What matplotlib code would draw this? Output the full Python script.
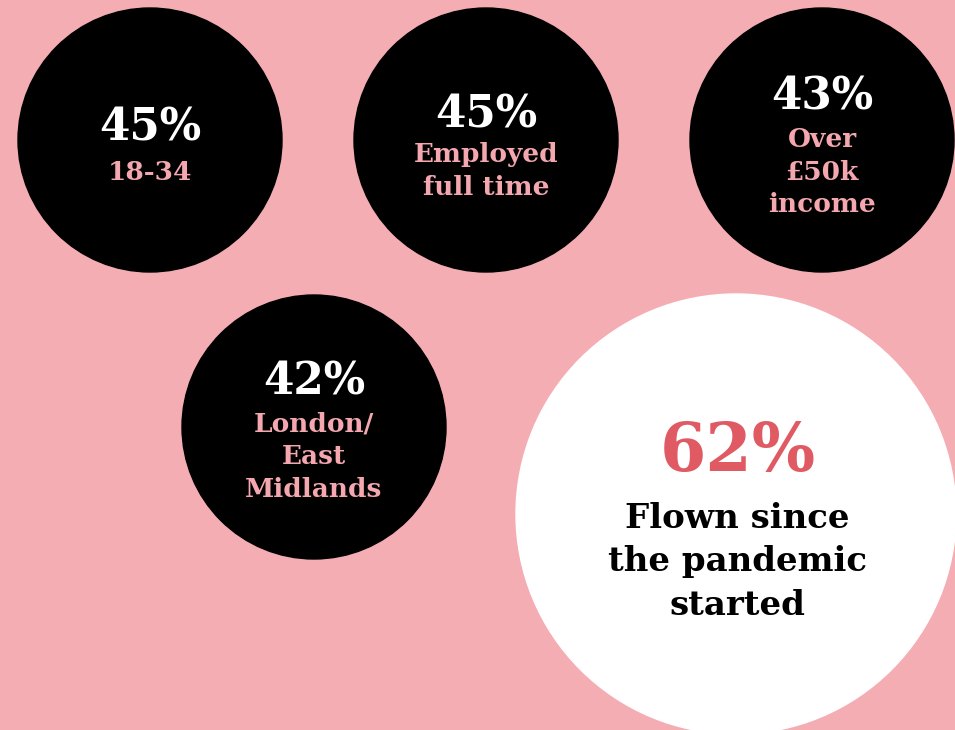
import matplotlib.pyplot as plt
from matplotlib.patches import Circle

# share of respondents who have flown, by group
values = ['45%', '45%', '43%', '42%']
groups = ['18-34', 'Employed\nfull time', 'Over\n£50k\nincome', 'London/\nEast\nMidlands']
total_value = '62%'
total_label = 'Flown since\nthe pandemic\nstarted'

bg = '#F4ADB3'
pink = '#F4A7AE'
red = '#E05A63'

# circle layout in pixel coordinates
centres = [(150, 140), (486, 140), (822, 140), (314, 427)]
value_y = [128, 115, 97, 382]
label_y = [172, 171, 172, 457]

fig = plt.figure(figsize=(9.55, 7.30), dpi=100)
fig.patch.set_facecolor(bg)
ax = fig.add_axes([0, 0, 1, 1])
ax.set_xlim(0, 955)
ax.set_ylim(730, 0)
ax.set_aspect('equal')
ax.axis('off')

font = 'DejaVu Serif'
for (cx, cy), v, g, vy, ly in zip(centres, values, groups, value_y, label_y):
    ax.add_patch(Circle((cx, cy), 132, color='black'))
    ax.text(cx, vy, v, ha='center', va='center', color='white',
            fontsize=31.5, fontweight='bold', family=font)
    ax.text(cx, ly, g, ha='center', va='center', color=pink,
            fontsize=19, fontweight='bold', family=font, linespacing=1.38)

ax.add_patch(Circle((736, 514), 220, color='white'))
ax.text(738, 452, total_value, ha='center', va='center', color=red,
        fontsize=48, fontweight='bold', family=font)
ax.text(737, 562, total_label, ha='center', va='center', color='black',
        fontsize=24.5, fontweight='bold', family=font, linespacing=1.4)

fig.savefig('out.png', dpi=100, facecolor=bg)
